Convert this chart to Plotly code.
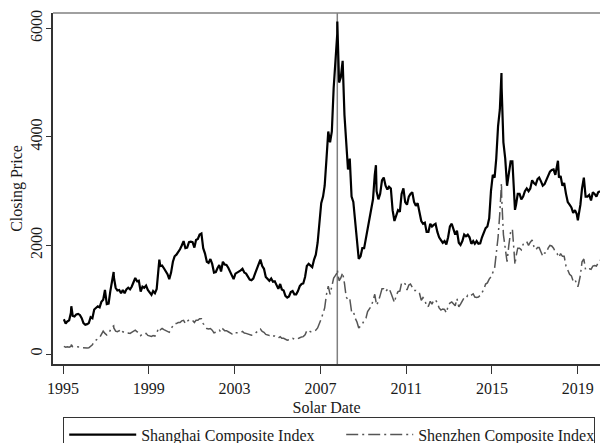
import plotly.graph_objects as go
import pandas as pd

# ---------------- data (mid-month closing levels) ----------------
SHANGHAI = [
    640, 560, 600, 620, 760, 700, 690, 730, 740, 720, 660, 570,        # 1995
    540, 550, 570, 680, 660, 820, 850, 880, 860, 960, 1000, 1180,      # 1996
    920, 930, 1150, 1350, 1420, 1220, 1170, 1180, 1120, 1180, 1120, 1190,  # 1997
    1220, 1190, 1240, 1330, 1400, 1340, 1350, 1150, 1240, 1220, 1260, 1180,  # 1998
    1130, 1090, 1160, 1120, 1200, 1650, 1620, 1630, 1580, 1530, 1470, 1380,  # 1999
    1500, 1700, 1800, 1830, 1870, 1930, 2000, 2080, 1950, 1960, 2060, 2070,  # 2000
    2060, 1960, 2100, 2120, 2200, 2220, 1950, 1850, 1700, 1680, 1750, 1660,  # 2001
    1500, 1510, 1580, 1640, 1520, 1700, 1650, 1640, 1590, 1510, 1440, 1380,  # 2002
    1480, 1500, 1510, 1540, 1570, 1500, 1480, 1420, 1370, 1360, 1390, 1480,  # 2003
    1580, 1680, 1740, 1620, 1570, 1420, 1390, 1350, 1390, 1330, 1340, 1270,  # 2004
    1200, 1290, 1190, 1170, 1070, 1040, 1060, 1140, 1160, 1100, 1100, 1160,  # 2005
    1250, 1290, 1300, 1420, 1620, 1660, 1620, 1600, 1740, 1830, 2050, 2500,  # 2006
    2780, 2900, 3100, 3600, 4100, 3900, 4100, 4900, 5400, 5900, 5000, 5100,  # 2007
    5400, 4400, 3900, 3400, 3600, 2900, 2800, 2450, 2150, 1750, 1800, 1950,  # 2008
    1950, 2150, 2300, 2500, 2650, 2850, 3300, 3000, 2850, 2950, 3200, 3250,  # 2009
    3100, 3030, 3080, 3050, 2650, 2450, 2550, 2650, 2620, 2950, 3050, 2800,  # 2010
    2750, 2900, 2950, 2980, 2800, 2730, 2780, 2620, 2450, 2400, 2420, 2250,  # 2011
    2250, 2400, 2350, 2380, 2400, 2250, 2150, 2100, 2050, 2080, 2020, 2150,  # 2012
    2350, 2400, 2280, 2200, 2270, 2050, 2010, 2080, 2200, 2170, 2200, 2150,  # 2013
    2030, 2080, 2030, 2080, 2030, 2040, 2150, 2230, 2320, 2350, 2500, 3000,  # 2014
    3300, 3250, 3600, 4200, 4500, 4900, 3900, 3600, 3100, 3350, 3550, 3550,  # 2015
    2900, 2750, 2950, 2950, 2850, 2900, 3000, 3050, 3000, 3050, 3200, 3150,  # 2016
    3120, 3220, 3250, 3180, 3100, 3130, 3200, 3260, 3360, 3390, 3400, 3300,  # 2017
    3450, 3250, 3280, 3100, 3150, 2950, 2800, 2750, 2700, 2600, 2650, 2580,  # 2018
    2550, 2750, 3050, 3250, 2900, 2900, 2930, 2830, 2980, 2950, 2900, 2980,  # 2019
    3000,                                                                   # 2020
]
SHENZHEN = [
    140, 125, 135, 125, 140, 135, 135, 140, 135, 130, 120, 113,      # 1995
    106, 110, 115, 150, 170, 230, 260, 280, 300, 360, 420, 380,      # 1996
    350, 380, 440, 500, 480, 420, 410, 430, 380, 410, 390, 380,      # 1997
    385, 380, 400, 420, 440, 410, 400, 340, 370, 365, 380, 343,      # 1998
    340, 325, 340, 330, 380, 480, 445, 470, 450, 430, 420, 400,      # 1999
    470, 530, 560, 560, 580, 580, 610, 620, 560, 600, 630, 635,      # 2000
    620, 580, 620, 620, 650, 650, 560, 520, 470, 460, 470, 440,      # 2001
    390, 400, 420, 440, 400, 460, 430, 430, 410, 385, 370, 355,      # 2002
    390, 390, 395, 395, 415, 385, 380, 365, 355, 345, 355, 380,      # 2003
    410, 440, 460, 415, 400, 360, 355, 340, 355, 330, 330, 315,      # 2004
    295, 320, 290, 290, 265, 255, 265, 290, 290, 270, 270, 278,      # 2005
    300, 315, 320, 355, 430, 440, 410, 410, 430, 440, 480, 550,      # 2006
    650, 750, 850, 1100, 1250, 1100, 1250, 1400, 1450, 1500, 1350, 1400,  # 2007
    1500, 1300, 1050, 1000, 1020, 780, 790, 660, 590, 480, 520, 550,      # 2008
    620, 660, 780, 830, 880, 980, 1100, 900, 970, 1080, 1200, 1200,       # 2009
    1150, 1190, 1210, 1130, 1030, 950, 1080, 1150, 1160, 1310, 1320, 1290,  # 2010
    1180, 1270, 1290, 1230, 1170, 1170, 1160, 1120, 990, 1040, 1000, 870,   # 2011
    880, 970, 920, 990, 1000, 940, 850, 810, 830, 820, 760, 880,            # 2012
    940, 960, 920, 890, 1020, 870, 920, 970, 1040, 1030, 1080, 1060,        # 2013
    1090, 1110, 1050, 1040, 1050, 1080, 1130, 1190, 1290, 1310, 1380, 1420,  # 2014
    1500, 1580, 1850, 2150, 2600, 2900, 2200, 1950, 1700, 2000, 2250, 2300,  # 2015
    1800, 1800, 1950, 1950, 1920, 2020, 2030, 2070, 2000, 2060, 2100, 1980,  # 2016
    1920, 1960, 1960, 1880, 1800, 1860, 1860, 1950, 2000, 1990, 1950, 1880,  # 2017
    1850, 1780, 1850, 1800, 1800, 1620, 1560, 1470, 1440, 1340, 1370, 1290,  # 2018
    1290, 1450, 1700, 1750, 1550, 1560, 1570, 1560, 1620, 1630, 1620, 1680,  # 2019
    1730,                                                                     # 2020
]
# intra-month extremes visible as spikes in the chart
SH_SPIKE_DATES = ["1995-05-22", "1997-05-12", "1999-06-29", "2007-10-16", "2009-08-04",
                  "2015-06-12", "2016-01-28", "2018-01-29", "2019-01-03"]
SH_SPIKE_VALUES = [880, 1510, 1740, 6124, 3478, 5178, 2656, 3560, 2464]
SZ_SPIKE_DATES = ["1995-05-22", "1997-05-12", "2007-10-16", "2015-06-12", "2016-01-28", "2019-01-03"]
SZ_SPIKE_VALUES = [170, 520, 1550, 3150, 1650, 1240]

EVENT_DATE = "2007-10-16"
X_TICK_YEARS = [1995, 1999, 2003, 2007, 2011, 2015, 2019]
Y_TICKS = [0, 2000, 4000, 6000]


def build(values, spike_dates, spike_values):
    months = pd.date_range("1995-01-01", periods=len(values), freq="MS") + pd.Timedelta(days=14)
    s = pd.Series(values, index=months)
    extra = pd.Series(spike_values, index=pd.to_datetime(spike_dates))
    return pd.concat([s, extra]).sort_index()


sh = build(SHANGHAI, SH_SPIKE_DATES, SH_SPIKE_VALUES)
sz = build(SHENZHEN, SZ_SPIKE_DATES, SZ_SPIKE_VALUES)

FONT = "Liberation Serif, Times New Roman, serif"

fig = go.Figure()
fig.add_trace(go.Scatter(x=sh.index, y=sh.values, mode="lines", name="Shanghai Composite Index",
                         line=dict(color="#000000", width=2.2), legendwidth=195))
fig.add_trace(go.Scatter(x=sz.index, y=sz.values, mode="lines", name="Shenzhen Composite Index",
                         line=dict(color="#555555", width=1.5, dash="12px,4px,2px,4px"),
                         legendwidth=170))

fig.add_shape(type="line", xref="x", yref="paper", x0=EVENT_DATE, x1=EVENT_DATE, y0=0, y1=1,
              line=dict(color="#808080", width=1.5), layer="below")
fig.add_shape(type="line", xref="paper", yref="paper", x0=0, x1=1, y0=1, y1=1,
              line=dict(color="#808080", width=1.5))

fig.update_layout(
    width=600, height=443,
    margin=dict(l=53, r=0, t=13, b=79, autoexpand=False),
    paper_bgcolor="white", plot_bgcolor="white",
    font=dict(family=FONT, size=16, color="#1a1a1a"),
    showlegend=True,
    legend=dict(orientation="h", x=0.0183, xanchor="left", y=-0.1496, yanchor="top",
                bordercolor="#333333", borderwidth=1.2, font=dict(size=16),
                itemwidth=67),
    xaxis=dict(
        type="date", automargin=False,
        range=["1994-07-14", "2020-01-15"],
        tickvals=[f"{y}-01-01" for y in X_TICK_YEARS],
        ticktext=[str(y) for y in X_TICK_YEARS],
        showline=True, linecolor="#333333", linewidth=1.5,
        ticks="outside", ticklen=8, tickwidth=1.2, tickcolor="#333333",
        ticklabelstandoff=1,
        showgrid=False, zeroline=False,
        title=dict(text="Solar Date", standoff=6, font=dict(size=16)),
    ),
    yaxis=dict(
        automargin=False,
        range=[-184, 6282],
        tickvals=Y_TICKS, ticktext=[str(v) for v in Y_TICKS],
        tickangle=-90,
        showline=True, linecolor="#333333", linewidth=1.5,
        ticks="outside", ticklen=5, tickwidth=1.2, tickcolor="#333333",
        ticklabelstandoff=-2,
        showgrid=False, zeroline=False,
        title=dict(text="Closing Price", standoff=1, font=dict(size=16)),
    ),
)

# remove the browser's default 8px page margin so the 600x443 figure fills the window
fig.write_html("out.html", config={"displayModeBar": False},
               post_script="document.body.style.margin='0';document.body.style.overflow='hidden';")
